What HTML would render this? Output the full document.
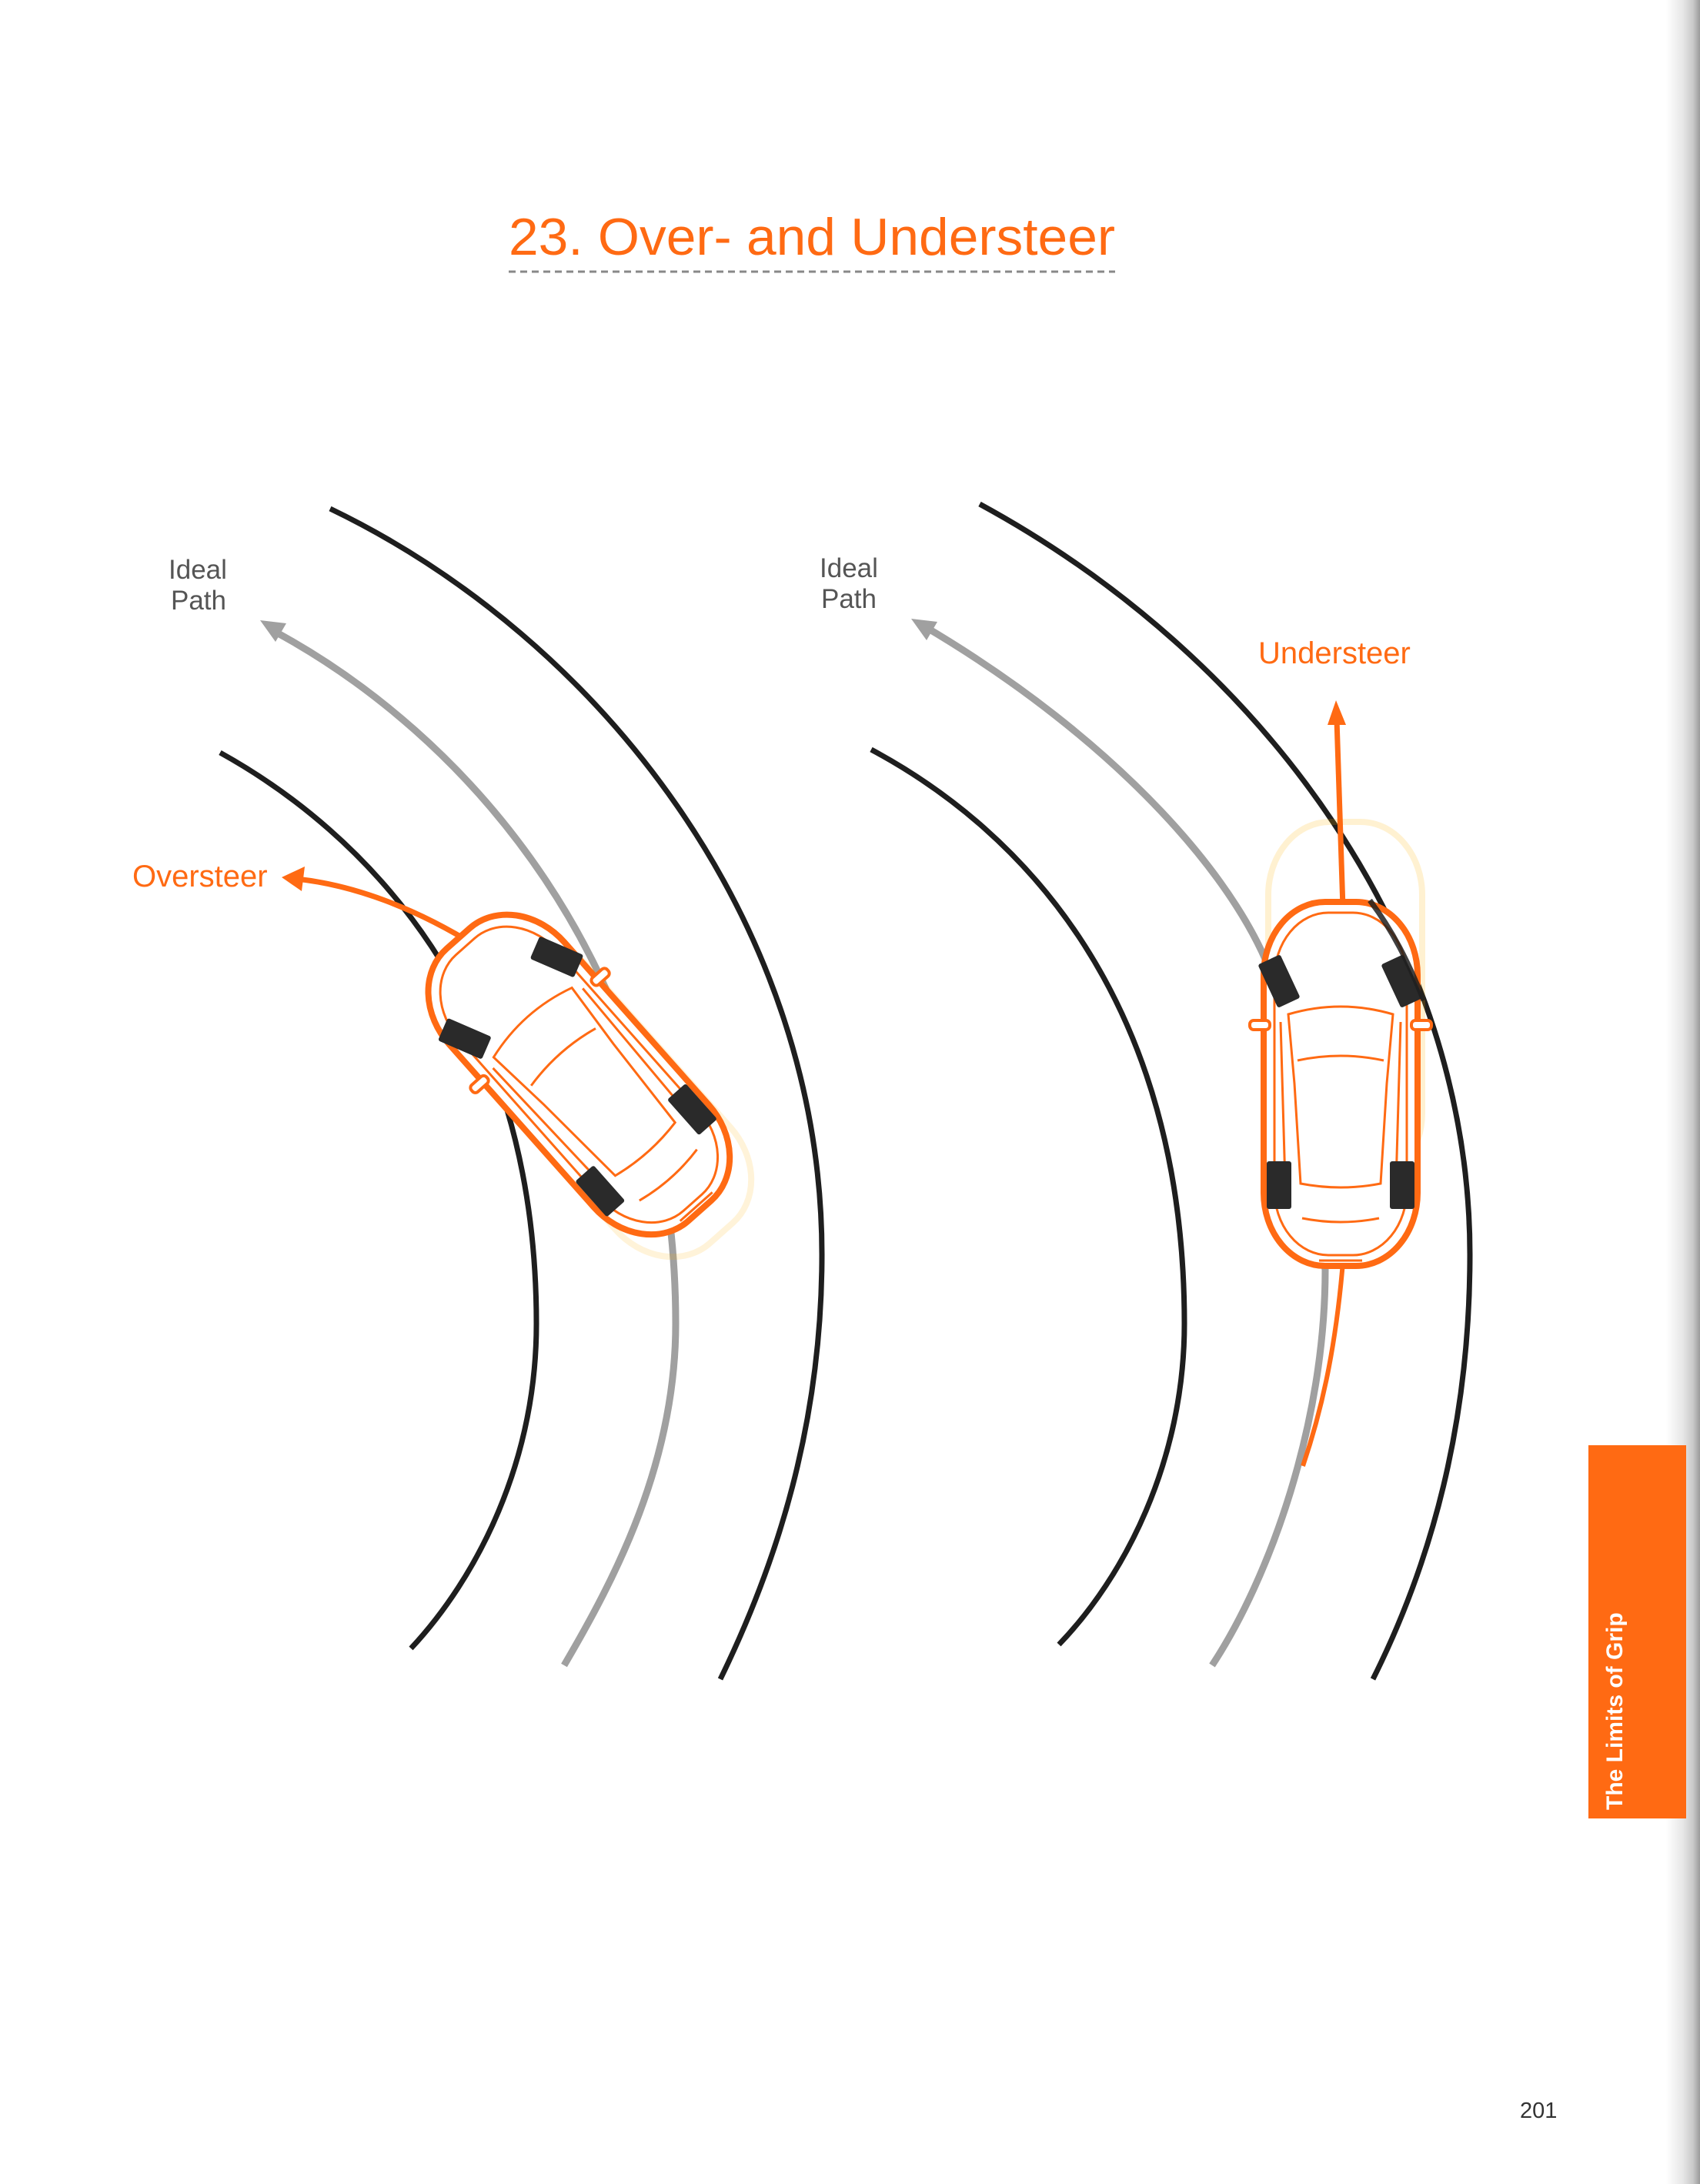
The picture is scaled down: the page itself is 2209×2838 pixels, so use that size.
<!DOCTYPE html>
<html><head><meta charset="utf-8"><style>
html,body{margin:0;padding:0;background:#fff}
svg{display:block}
text{font-family:"Liberation Sans",sans-serif}
</style></head><body>
<svg width="2209" height="2838" viewBox="0 0 2209 2838" xmlns="http://www.w3.org/2000/svg">
<defs>
<linearGradient id="edge" x1="0" x2="1" y1="0" y2="0">
<stop offset="0" stop-color="#fff"/><stop offset="0.5" stop-color="#e6e6e6"/><stop offset="0.8" stop-color="#c8c8c8"/><stop offset="1" stop-color="#9a9a9a"/>
</linearGradient>
<g id="car">
  <rect x="-100" y="-236" width="200" height="473" rx="80" ry="95" fill="#fff" stroke="#ff6a13" stroke-width="8"/>
  <rect x="-86" y="-222" width="172" height="445" rx="70" ry="85" fill="none" stroke="#ff6a13" stroke-width="3"/>
  <path d="M-68,-90 Q0,-110 68,-90 L60,0 L52,130 Q0,140 -52,130 L-60,0 Z" fill="none" stroke="#ff6a13" stroke-width="3"/>
  <path d="M-56,-30 Q0,-42 56,-30" fill="none" stroke="#ff6a13" stroke-width="3"/>
  <path d="M-50,175 Q0,185 50,175" fill="none" stroke="#ff6a13" stroke-width="3"/>
  <line x1="-78" y1="-80" x2="-72" y2="130" stroke="#ff6a13" stroke-width="3"/>
  <line x1="78" y1="-80" x2="72" y2="130" stroke="#ff6a13" stroke-width="3"/>
  <rect x="-118" y="-82" width="26" height="12" rx="5" fill="#fff" stroke="#ff6a13" stroke-width="4"/>
  <rect x="92" y="-82" width="26" height="12" rx="5" fill="#fff" stroke="#ff6a13" stroke-width="4"/>
  <line x1="-28" y1="230" x2="28" y2="230" stroke="#ff6a13" stroke-width="3"/>
  <rect x="-16" y="-31" width="32" height="62" rx="3" fill="#2a2a2a" transform="translate(-80,-133) rotate(-25)"/>
  <rect x="-16" y="-31" width="32" height="62" rx="3" fill="#2a2a2a" transform="translate(80,-133) rotate(-25)"/>
  <rect x="-96" y="101" width="32" height="62" rx="3" fill="#2a2a2a"/>
  <rect x="64" y="101" width="32" height="62" rx="3" fill="#2a2a2a"/>
</g>
</defs>

<rect x="2165" y="0" width="44" height="2838" fill="url(#edge)"/>

<text x="661" y="331" font-size="68" fill="#ff6a13" textLength="788" lengthAdjust="spacingAndGlyphs">23. Over- and Understeer</text>
<line x1="661" y1="353" x2="1449" y2="353" stroke="#888" stroke-width="3" stroke-dasharray="9,6"/>

<path d="M429,661 C780,830 1068,1200 1068,1630 C1068,1850 1010,2030 936,2182" fill="none" stroke="#1e1e1e" stroke-width="7"/>
<path d="M286,978 C470,1080 697,1300 697,1720 C697,1900 620,2050 534,2142" fill="none" stroke="#1e1e1e" stroke-width="7"/>
<path d="M352,818 C600,950 878,1250 878,1720 C878,1900 800,2050 733,2164" fill="none" stroke="#a0a0a0" stroke-width="9"/>
<polygon points="338,806 372,810 358,834" fill="#a0a0a0"/>
<text x="219" y="752" font-size="35" fill="#555">Ideal</text>
<text x="222" y="792" font-size="35" fill="#555">Path</text>

<g transform="translate(780,1425) rotate(-41.6)" opacity="0.15"><rect x="-100" y="-236" width="200" height="473" rx="80" ry="95" fill="none" stroke="#ffb000" stroke-width="8"/></g>
<path d="M620,1230 C540,1180 460,1150 385,1142" fill="none" stroke="#ff6a13" stroke-width="7"/>
<polygon points="366,1140 396,1126 392,1158" fill="#ff6a13"/>
<g transform="translate(752,1396) rotate(-41.6)"><use href="#car"/></g>
<text x="172" y="1152" font-size="40" fill="#ff6a13">Oversteer</text>

<path d="M1273,655 C1650,860 1910,1230 1910,1630 C1910,1850 1860,2030 1784,2182" fill="none" stroke="#1e1e1e" stroke-width="7"/>
<path d="M1132,974 C1330,1080 1539,1300 1539,1720 C1539,1900 1460,2050 1376,2137" fill="none" stroke="#1e1e1e" stroke-width="7"/>
<path d="M1198,812 C1450,960 1620,1150 1660,1290 L1722,1650 C1722,1850 1650,2050 1575,2164" fill="none" stroke="#a0a0a0" stroke-width="9"/>
<polygon points="1184,804 1218,808 1204,832" fill="#a0a0a0"/>
<text x="1065" y="750" font-size="35" fill="#555">Ideal</text>
<text x="1067" y="790" font-size="35" fill="#555">Path</text>
<text x="1635" y="862" font-size="40" fill="#ff6a13">Understeer</text>

<g transform="translate(1748,1304)" opacity="0.18"><rect x="-100" y="-236" width="200" height="473" rx="80" ry="95" fill="none" stroke="#ffb000" stroke-width="8"/></g>
<path d="M1745,1180 L1737,935" fill="none" stroke="#ff6a13" stroke-width="7"/>
<polygon points="1736,910 1725,942 1749,942" fill="#ff6a13"/>
<path d="M1745,1640 C1735,1760 1715,1840 1693,1905" fill="none" stroke="#ff6a13" stroke-width="6"/>
<g transform="translate(1742,1408)"><use href="#car"/></g>
<path d="M1780,1170 C1810,1210 1830,1250 1850,1300" fill="none" stroke="#1e1e1e" stroke-width="7" opacity="0.85"/>

<rect x="2064" y="1878" width="127" height="485" fill="#ff6a13"/>
<text transform="translate(2108,2352) rotate(-90)" font-size="30" font-weight="bold" fill="#fff">The Limits of Grip</text>

<text x="1975" y="2752" font-size="29" fill="#333">201</text>
</svg>
</body></html>
